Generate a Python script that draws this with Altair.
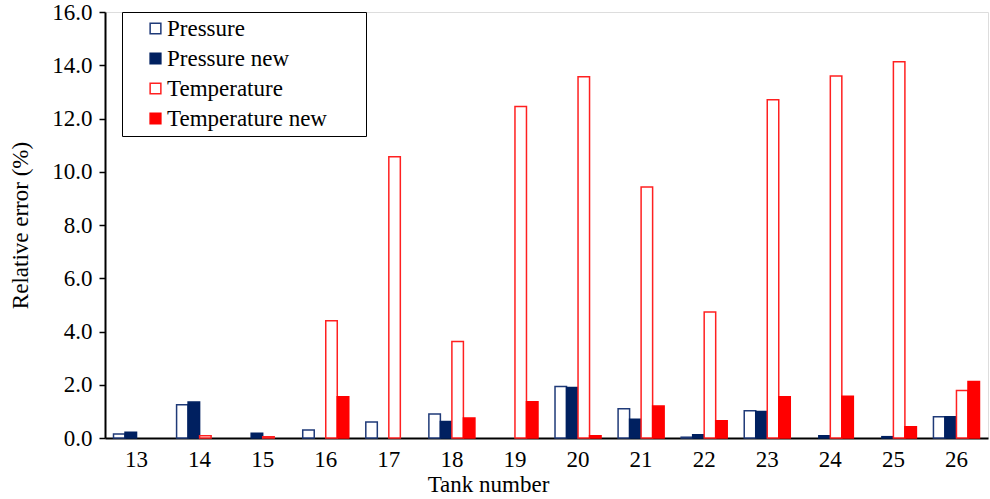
import altair as alt
import pandas as pd

tanks = ["13", "14", "15", "16", "17", "18", "19", "20", "21", "22", "23", "24", "25", "26"]
pressure = [0.15, 1.25, 0.0, 0.30, 0.60, 0.90, 0.0, 1.93, 1.10, 0.03, 1.02, 0.0, 0.0, 0.80]
pressure_new = [0.22, 1.35, 0.18, 0.0, 0.0, 0.62, 0.0, 1.90, 0.70, 0.12, 1.00, 0.08, 0.05, 0.80]
temperature = [0.0, 0.08, 0.05, 4.40, 10.56, 3.62, 12.45, 13.57, 9.43, 4.73, 12.70, 13.60, 14.13, 1.78]
temperature_new = [0.0, 0.0, 0.0, 1.55, 0.0, 0.75, 1.36, 0.08, 1.20, 0.65, 1.55, 1.57, 0.42, 2.12]

series = ["Pressure", "Pressure new", "Temperature", "Temperature new"]
fills = ["#ffffff", "#002060", "#ffffff", "#ff0000"]
strokes = ["#1f3a78", "#002060", "#ff2020", "#ff0000"]

rows = []
for name, vals in zip(series, [pressure, pressure_new, temperature, temperature_new]):
    for t, v in zip(tanks, vals):
        rows.append({"tank": t, "series": name, "value": v})
df = pd.DataFrame(rows)

font = "Liberation Serif"
fs = 23
legend = alt.Legend(
    title=None, orient="none", legendX=17, legendY=0,
    strokeColor="black", padding=5, fillColor="white",
    labelFont=font, labelFontSize=fs, labelColor="black", labelLimit=400,
    labelExpr="datum.label == 'Temperature new' ? datum.label + '\u2800\u2800' : datum.label",
    symbolType="square", symbolSize=115, symbolStrokeWidth=1.5,
    symbolOffset=17, rowPadding=6, labelOffset=0,
)

chart = alt.Chart(df).transform_filter(alt.datum.value > 0).mark_bar(strokeWidth=1.5).encode(
    x=alt.X("tank:N", sort=tanks,
            scale=alt.Scale(domain=tanks, paddingInner=0.27, paddingOuter=0.135),
            axis=alt.Axis(title="Tank number", labelAngle=0, ticks=False,
                          labelFont=font, labelFontSize=fs, labelColor="black", labelPadding=10,
                          titleFont=font, titleFontSize=fs, titleFontWeight="normal", titleColor="black",
                          titleX=383, titleAlign="center", titlePadding=2,
                          domainColor="black", domainWidth=2)),
    xOffset=alt.XOffset("series:N", sort=series,
                        scale=alt.Scale(domain=series, paddingInner=0, paddingOuter=0)),
    y=alt.Y("value:Q", scale=alt.Scale(domain=[0, 16], nice=False),
            axis=alt.Axis(title="Relative error (%)", values=[0, 2, 4, 6, 8, 10, 12, 14, 16], format=".1f",
                          grid=False, tickSize=6, tickColor="black", tickWidth=1.5,
                          labelFont=font, labelFontSize=fs, labelColor="black", labelPadding=7,
                          titleFont=font, titleFontSize=fs, titleFontWeight="normal", titleColor="black",
                          titlePadding=19, domainColor="black", domainWidth=2)),
    fill=alt.Fill("series:N", sort=series, scale=alt.Scale(domain=series, range=fills), legend=legend),
    stroke=alt.Stroke("series:N", sort=series, scale=alt.Scale(domain=series, range=strokes), legend=legend),
).properties(
    width=883, height=426,
    autosize=alt.AutoSizeParams(type="none"),
    padding={"left": 105, "top": 12, "right": 2, "bottom": 61},
).configure_view(stroke=None).configure(background="white")

chart.save("out.html", embed_options={"renderer": "svg", "actions": False})
